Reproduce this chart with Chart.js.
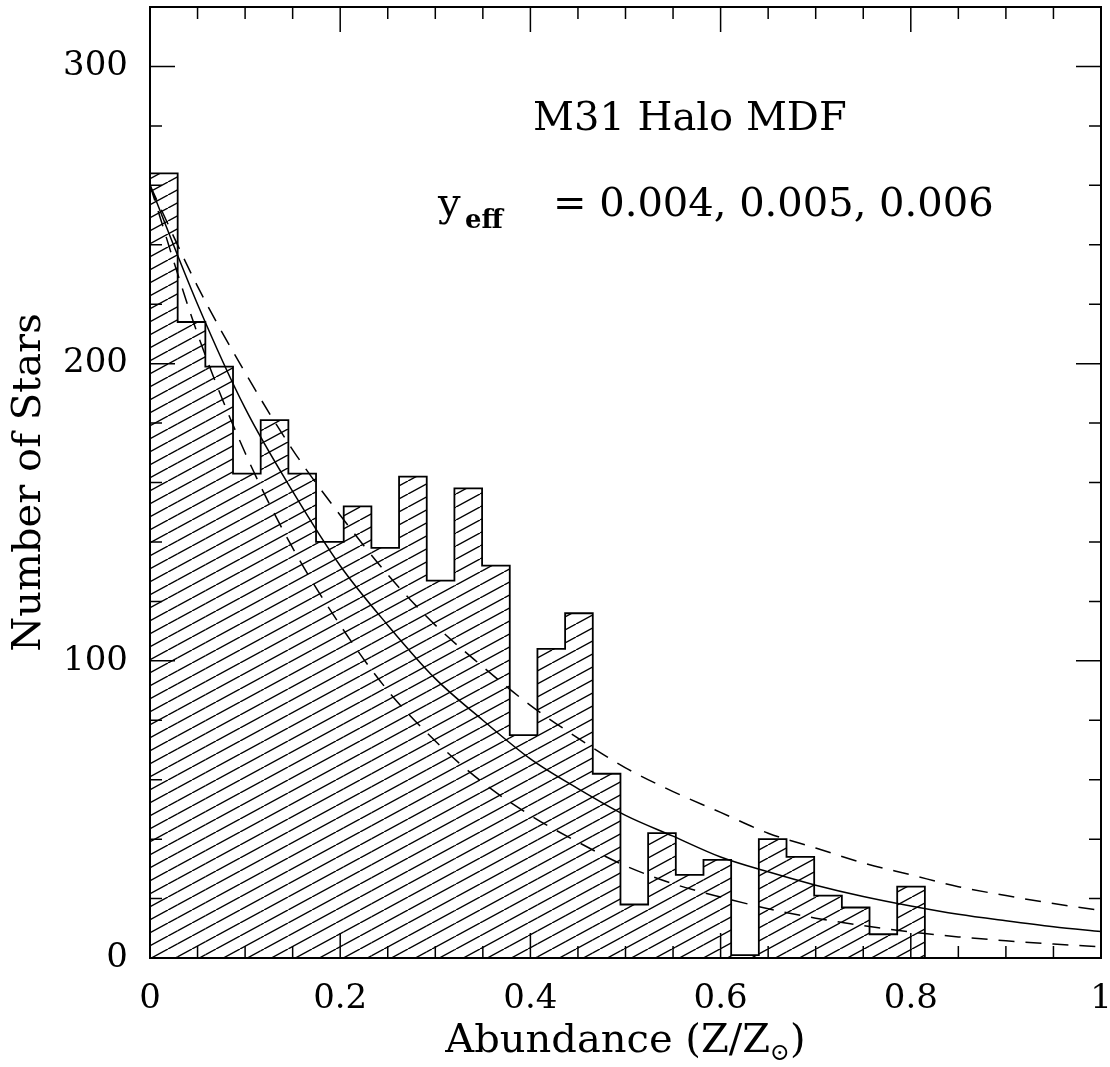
<!DOCTYPE html>
<html>
<head>
<meta charset="utf-8">
<script src="https://cdn.jsdelivr.net/npm/chart.js@4.4.1/dist/chart.umd.min.js"></script>
<style>
html,body{margin:0;padding:0;background:#fff;}
#wrap{width:1110px;height:1067px;}
</style>
</head>
<body>
<div id="wrap"><canvas id="c" width="1110" height="1067"></canvas></div>
<script>
// ---- data ----
const binEdges = [0, 0.0291, 0.0582, 0.0873, 0.1164, 0.1455, 0.1746, 0.2037, 0.2328, 0.2619,
  0.2910, 0.3201, 0.3492, 0.3783, 0.4074, 0.4365, 0.4656, 0.4947, 0.5238, 0.5529,
  0.5820, 0.6111, 0.6402, 0.6693, 0.6984, 0.7275, 0.7566, 0.7857, 0.8148];
const binCounts = [264, 214, 199, 163, 181, 163, 140, 152, 138, 162, 127, 158, 132, 75,
  104, 116, 62, 18, 42, 28, 33, 1, 40, 34, 21, 17, 8, 24];

const curveZ = [0, 0.05, 0.10, 0.15, 0.20, 0.25, 0.30, 0.35, 0.40, 0.45, 0.50,
  0.55, 0.60, 0.65, 0.70, 0.75, 0.80, 0.85, 0.90, 0.95, 1.00];
const modelY004 = [260, 210, 170, 138, 112, 90, 73, 59, 48, 39, 31, 25, 20.5, 16.6, 13.4, 10.9, 8.8, 7.1, 5.8, 4.7, 3.8];
const modelY005 = [260, 220, 185, 157, 132, 112, 94, 80, 67, 57, 48, 41, 34, 29, 24.5, 20.7, 17.5, 14.7, 12.5, 10.5, 8.9];
const modelY006 = [260, 226, 197, 171, 149, 129, 112, 98, 85, 74, 64, 56, 49, 42, 37, 32, 28, 24, 21, 18.3, 16];

const xTickValues = [0, 0.05, 0.1, 0.15, 0.2, 0.25, 0.3, 0.35, 0.4, 0.45, 0.5,
  0.55, 0.6, 0.65, 0.7, 0.75, 0.8, 0.85, 0.9, 0.95, 1];
const xMajorTicks = [0, 0.2, 0.4, 0.6, 0.8, 1];
const xMajorLabels = ['0', '0.2', '0.4', '0.6', '0.8', '1'];
const yTickValues = [0, 20, 40, 60, 80, 100, 120, 140, 160, 180, 200, 220, 240, 260, 280, 300, 320];
const yMajorTicks = [0, 100, 200, 300];
const yMajorLabels = ['0', '100', '200', '300'];

const titleText = 'M31 Halo MDF';
const yieldLabel = '= 0.004, 0.005, 0.006';

// ---- helpers ----
function majorIndex(list, v) {
  return list.findIndex(m => Math.abs(m - v) < 1e-9);
}
function makeHatch() {
  const W = 24, H = 13;
  const t = document.createElement('canvas');
  t.width = W; t.height = H;
  const g = t.getContext('2d');
  g.strokeStyle = '#000';
  g.lineWidth = 1.4;
  g.beginPath();
  for (let k = -1; k <= 1; k++) {
    g.moveTo(k * W, H);
    g.lineTo(k * W + W, 0);
  }
  g.stroke();
  return document.getElementById('c').getContext('2d').createPattern(t, 'repeat');
}

const FONT = '"DejaVu Serif", "Liberation Serif", serif';

const framePlugin = {
  id: 'frameTicks',
  afterDatasetsDraw(chart) {
    const {ctx, chartArea: a, scales: {x, y}} = chart;
    ctx.save();
    ctx.strokeStyle = '#000';
    ctx.lineWidth = 1.5;
    ctx.beginPath();
    x.ticks.forEach(t => {
      const px = x.getPixelForValue(t.value);
      const len = majorIndex(xMajorTicks, t.value) >= 0 ? 25 : 12;
      ctx.moveTo(px, a.bottom); ctx.lineTo(px, a.bottom - len);
      ctx.moveTo(px, a.top); ctx.lineTo(px, a.top + len);
    });
    y.ticks.forEach(t => {
      const py = y.getPixelForValue(t.value);
      const len = majorIndex(yMajorTicks, t.value) >= 0 ? 25 : 12;
      ctx.moveTo(a.left, py); ctx.lineTo(a.left + len, py);
      ctx.moveTo(a.right, py); ctx.lineTo(a.right - len, py);
    });
    ctx.stroke();
    ctx.lineWidth = 2;
    ctx.strokeRect(a.left, a.top, a.right - a.left, a.bottom - a.top);
    ctx.restore();
  },
  afterDraw(chart) {
    const {ctx, chartArea: a} = chart;
    ctx.save();
    ctx.fillStyle = '#000';
    ctx.textBaseline = 'alphabetic';
    ctx.textAlign = 'left';
    // title
    ctx.font = '40px ' + FONT;
    ctx.fillText(titleText, 533, 130);
    // y_eff line
    ctx.fillText('y', 438, 216);
    ctx.font = 'bold 26px ' + FONT;
    ctx.fillText('eff', 465, 228);
    ctx.font = '40px ' + FONT;
    ctx.fillText(yieldLabel, 553, 216);
    // x axis title with subscript sun symbol
    const main = 'Abundance (Z/Z', sub = '\u2299', close = ')';
    ctx.font = '40px ' + FONT;
    const wMain = ctx.measureText(main).width;
    const wClose = ctx.measureText(close).width;
    ctx.font = '24px ' + FONT;
    const wSub = ctx.measureText(sub).width;
    const total = wMain + wSub + wClose;
    let sx = (a.left + a.right) / 2 - total / 2;
    const base = 1052;
    ctx.font = '40px ' + FONT;
    ctx.fillText(main, sx, base);
    ctx.font = '24px ' + FONT;
    ctx.fillText(sub, sx + wMain, base + 8);
    ctx.font = '40px ' + FONT;
    ctx.fillText(close, sx + wMain + wSub, base);
    ctx.restore();
  }
};

const hatch = makeHatch();

const histBars = binCounts.map((c, i) => ({x: (binEdges[i] + binEdges[i + 1]) / 2, y: c}));
const histOutline = [{x: binEdges[0], y: 0}]
  .concat(binCounts.map((c, i) => ({x: binEdges[i], y: c})))
  .concat([{x: binEdges[binEdges.length - 1], y: 0}]);
const toPts = arr => arr.map((v, i) => ({x: curveZ[i], y: v}));

new Chart(document.getElementById('c'), {
  type: 'bar',
  data: {
    datasets: [
      {
        type: 'line', label: 'y_eff = 0.005', data: toPts(modelY005),
        borderColor: '#000', borderWidth: 1.5, pointRadius: 0, fill: false,
        cubicInterpolationMode: 'monotone', order: 1
      },
      {
        type: 'line', label: 'y_eff = 0.004', data: toPts(modelY004),
        borderColor: '#000', borderWidth: 1.5, borderDash: [16, 11], pointRadius: 0, fill: false,
        cubicInterpolationMode: 'monotone', order: 1
      },
      {
        type: 'line', label: 'y_eff = 0.006', data: toPts(modelY006),
        borderColor: '#000', borderWidth: 1.5, borderDash: [16, 11], pointRadius: 0, fill: false,
        cubicInterpolationMode: 'monotone', order: 1
      },
      {
        type: 'line', label: 'histogram outline', data: histOutline, stepped: 'before',
        borderColor: '#000', borderWidth: 1.8, pointRadius: 0, fill: false, order: 2
      },
      {
        type: 'bar', label: 'M31 halo stars', data: histBars,
        backgroundColor: hatch, borderWidth: 0, barPercentage: 1, categoryPercentage: 1,
        inflateAmount: 0, order: 3
      }
    ]
  },
  options: {
    responsive: false,
    animation: false,
    devicePixelRatio: 1,
    layout: {padding: {top: 7, right: 9, left: 0, bottom: 0}},
    plugins: {legend: {display: false}, tooltip: {enabled: false}},
    scales: {
      x: {
        type: 'linear', min: 0, max: 1, offset: false,
        grid: {display: false, drawTicks: false},
        border: {display: false},
        afterBuildTicks: s => { s.ticks = xTickValues.map(v => ({value: v})); },
        afterFit: s => { s.height = 109; s.paddingLeft = 0; s.paddingRight = 0; s.paddingTop = 0; s.paddingBottom = 0; },
        ticks: {
          autoSkip: false, maxRotation: 0, padding: 21, color: '#000',
          font: {family: FONT, size: 34},
          callback: v => { const i = majorIndex(xMajorTicks, v); return i >= 0 ? xMajorLabels[i] : ''; }
        }
      },
      y: {
        type: 'linear', min: 0, max: 320,
        grid: {display: false, drawTicks: false},
        border: {display: false},
        afterBuildTicks: s => { s.ticks = yTickValues.map(v => ({value: v})); },
        afterFit: s => { s.width = 150; s.paddingLeft = 0; s.paddingRight = 0; s.paddingTop = 0; s.paddingBottom = 0; },
        title: {display: true, text: 'Number of Stars', color: '#000',
          font: {family: FONT, size: 40}, padding: {top: 6, bottom: 0}},
        ticks: {
          autoSkip: false, padding: 22, color: '#000',
          font: {family: FONT, size: 34},
          callback: v => { const i = majorIndex(yMajorTicks, v); return i >= 0 ? yMajorLabels[i] : ''; }
        }
      }
    }
  },
  plugins: [framePlugin]
});
</script>
</body>
</html>
